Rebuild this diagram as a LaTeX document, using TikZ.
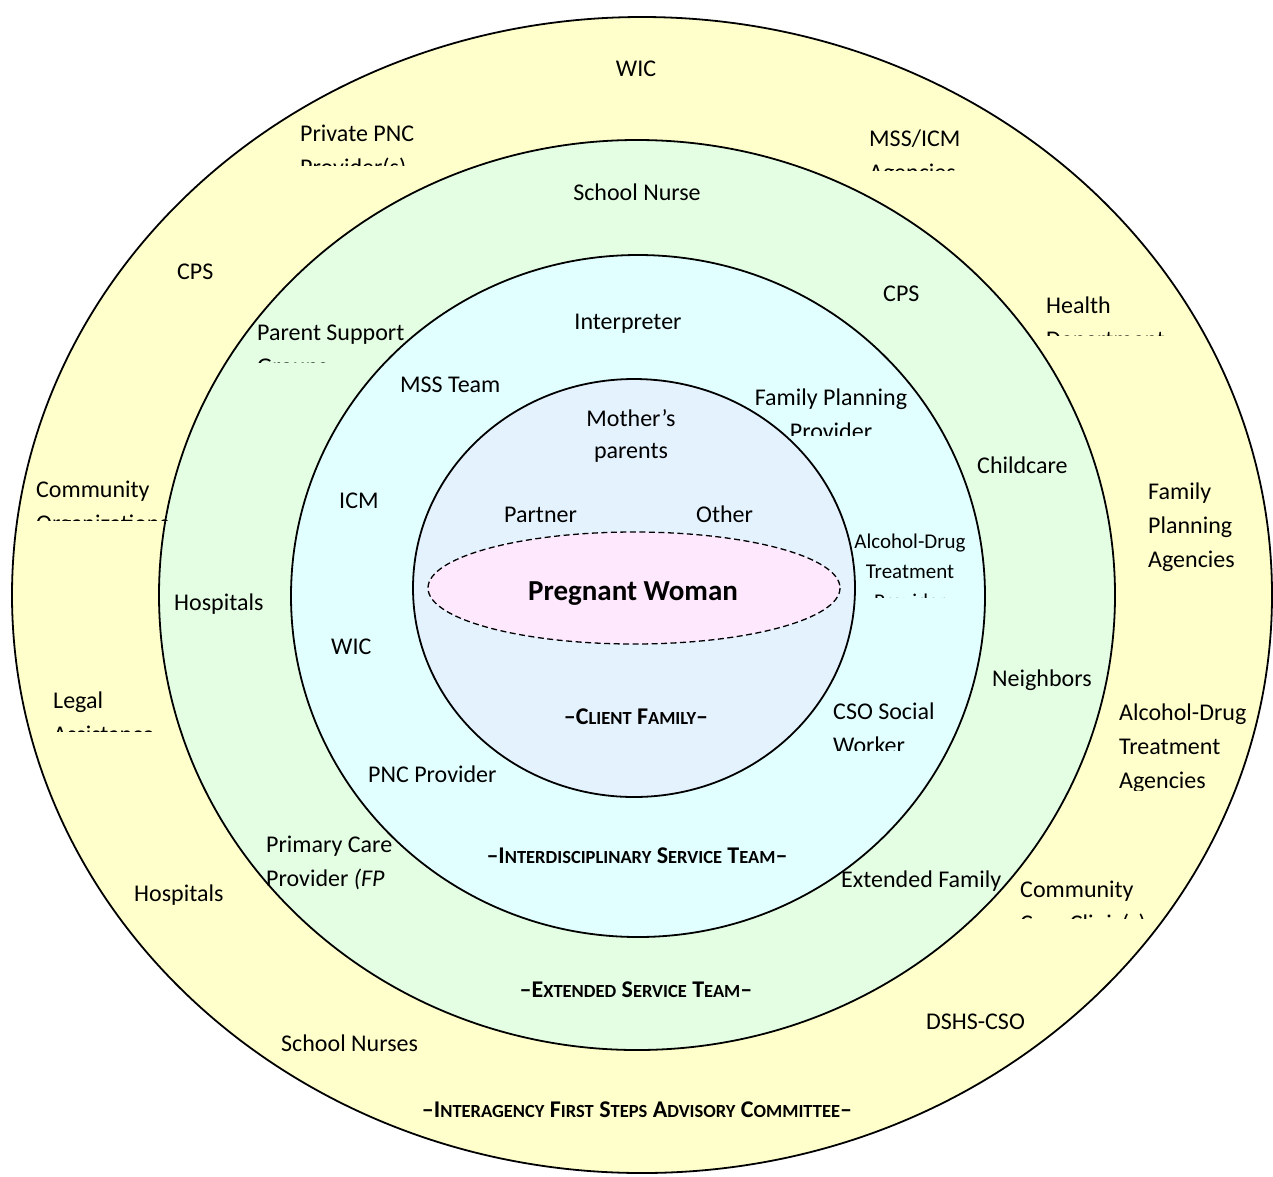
\documentclass[tikz,border=0pt]{standalone}
\usepackage{fontspec}
\setmainfont{Carlito}
\definecolor{outerc}{HTML}{FFFFCC}
\definecolor{greenc}{HTML}{E4FEE4}
\definecolor{cyanc}{HTML}{E2FFFF}
\definecolor{innerc}{HTML}{E4F2FE}
\definecolor{pinkc}{HTML}{FEE8FE}
\newcommand\mysc[1]{{\fontsize{18.5}{18.5}\selectfont #1}}
\begin{document}
\begin{tikzpicture}[x=1pt,y=-1pt,
  ring/.style={draw=black,line width=1.8pt},
  lbl/.style={font=\fontsize{24}{34}\selectfont,inner sep=0pt,anchor=base west},
  clbl/.style={lbl,anchor=base},
  slbl/.style={font=\fontsize{21}{30}\selectfont,inner sep=0pt,anchor=base},
  ttl/.style={font=\bfseries\fontsize{24}{24}\selectfont,inner sep=0pt,anchor=base}]
\useasboundingbox (0,0) rectangle (1273,1176);
\fill[white] (0,0) rectangle (1273,1176);
% rings
\path[ring,fill=outerc] (642,595) ellipse [x radius=630,y radius=578];
\path[ring,fill=greenc] (637,595) ellipse [x radius=478,y radius=455];
\path[ring,fill=cyanc] (638,596) ellipse [x radius=347,y radius=341];
\path[ring,fill=innerc] (634,588) ellipse [x radius=221,y radius=209];
\path[draw=black,line width=1.3pt,dashed,dash pattern=on 6pt off 3.5pt,fill=pinkc] (634,588) ellipse [x radius=206,y radius=56];

% outer ring labels
\node[clbl] (owic) at (636,76) {WIC};
\node[lbl] (opnc) at (300,141) {Private PNC};
\begin{scope}\clip (280,145) rectangle (480,165);
\node[lbl] (opnc2) at (300,175) {Provider(s)};\end{scope}
\node[lbl] (omss) at (869,146) {MSS/ICM};
\begin{scope}\clip (850,150) rectangle (1010,170);
\node[lbl] (omss2) at (869,180) {Agencies};\end{scope}
\node[lbl] (ocps) at (177,279) {CPS};
\node[lbl] (ohealth) at (1046,313) {Health};
\begin{scope}\clip (1030,318) rectangle (1180,335);
\node[lbl] (ohealth2) at (1046,347) {Department};\end{scope}
\node[lbl] (ocomm) at (36,497) {Community};
\begin{scope}\clip (20,502) rectangle (180,520);
\node[lbl] (ocomm2) at (36,531) {Organizations};\end{scope}
\node[lbl] (ofam1) at (1148,499) {Family};
\node[lbl] (ofam2) at (1148,533) {Planning};
\node[lbl] (ofam3) at (1148,567) {Agencies};
\node[lbl] (olegal) at (53,708) {Legal};
\begin{scope}\clip (40,713) rectangle (190,731);
\node[lbl] (olegal2) at (53,742) {Assistance};\end{scope}
\node[lbl] (oalc1) at (1119,720) {Alcohol-Drug};
\node[lbl] (oalc2) at (1119,754) {Treatment};
\begin{scope}\clip (1100,760) rectangle (1273,790);
\node[lbl] (oalc3) at (1119,788) {Agencies};\end{scope}
\node[lbl] (ohosp) at (134,901) {Hospitals};
\node[lbl] (occc) at (1020,897) {Community};
\begin{scope}\clip (1000,902) rectangle (1160,918);
\node[lbl] (occc2) at (1020,931) {Care Clinic(s)};\end{scope}
\node[lbl] (osn) at (281,1051) {School Nurses};
\node[lbl] (odshs) at (926,1029) {DSHS-CSO};
\node[ttl] (ottl) at (637,1117) {\textendash I\mysc{NTERAGENCY} F\mysc{IRST} S\mysc{TEPS} A\mysc{DVISORY} C\mysc{OMMITTEE}\textendash};

% green ring labels
\node[clbl] (gsn) at (637,200) {School Nurse};
\node[lbl] (gcps) at (883,301) {CPS};
\node[lbl] (gpsg) at (257,340) {Parent Support};
\begin{scope}\clip (240,345) rectangle (420,362);
\node[lbl] (gpsg2) at (257,374) {Groups};\end{scope}
\node[lbl] (gchild) at (977,473) {Childcare};
\node[lbl] (ghosp) at (174,610) {Hospitals};
\node[lbl] (gneigh) at (992,686) {Neighbors};
\node[lbl] (gpcp) at (266,852) {Primary Care};
\node[lbl] (gpcp2) at (266,886) {Provider \textit{(FP}};
\node[lbl] (gext) at (841,887) {Extended Family};
\node[ttl] (gttl) at (636,997) {\textendash E\mysc{XTENDED} S\mysc{ERVICE} T\mysc{EAM}\textendash};

% cyan ring labels
\node[clbl] (cint) at (628,329) {Interpreter};
\node[lbl] (cmss) at (400,392) {MSS Team};
\node[clbl] (cfpp) at (831,405) {Family Planning};
\begin{scope}\clip (740,410) rectangle (930,435);
\node[clbl] (cfpp2) at (831,439) {Provider};\end{scope}
\node[lbl] (cicm) at (339,508) {ICM};
\node[slbl] (calc1) at (910,548) {Alcohol-Drug};
\node[slbl] (calc2) at (910,578) {Treatment};
\begin{scope}\clip (840,584) rectangle (990,597);
\node[slbl] (calc3) at (910,608) {Provider};\end{scope}
\node[lbl] (cwic) at (331,654) {WIC};
\node[lbl] (ccso) at (833,719) {CSO Social};
\begin{scope}\clip (820,725) rectangle (940,750);
\node[lbl] (ccso2) at (833,753) {Worker};\end{scope}
\node[lbl] (cpnc) at (368,782) {PNC Provider};
\node[ttl] (cttl) at (637,863) {\textendash I\mysc{NTERDISCIPLINARY} S\mysc{ERVICE} T\mysc{EAM}\textendash};

% inner labels
\node[clbl] (imp1) at (631,426) {Mother’s};
\node[clbl] (imp2) at (631,458) {parents};
\node[lbl] (ipart) at (504,522) {Partner};
\node[lbl] (ioth) at (696,522) {Other};
\node[font=\bfseries\fontsize{29}{34}\selectfont,inner sep=0pt,anchor=base] (ipw) at (633,600) {Pregnant Woman};
\node[ttl] (ittl) at (636,724) {\textendash C\mysc{LIENT} F\mysc{AMILY}\textendash};
\end{tikzpicture}
\end{document}
